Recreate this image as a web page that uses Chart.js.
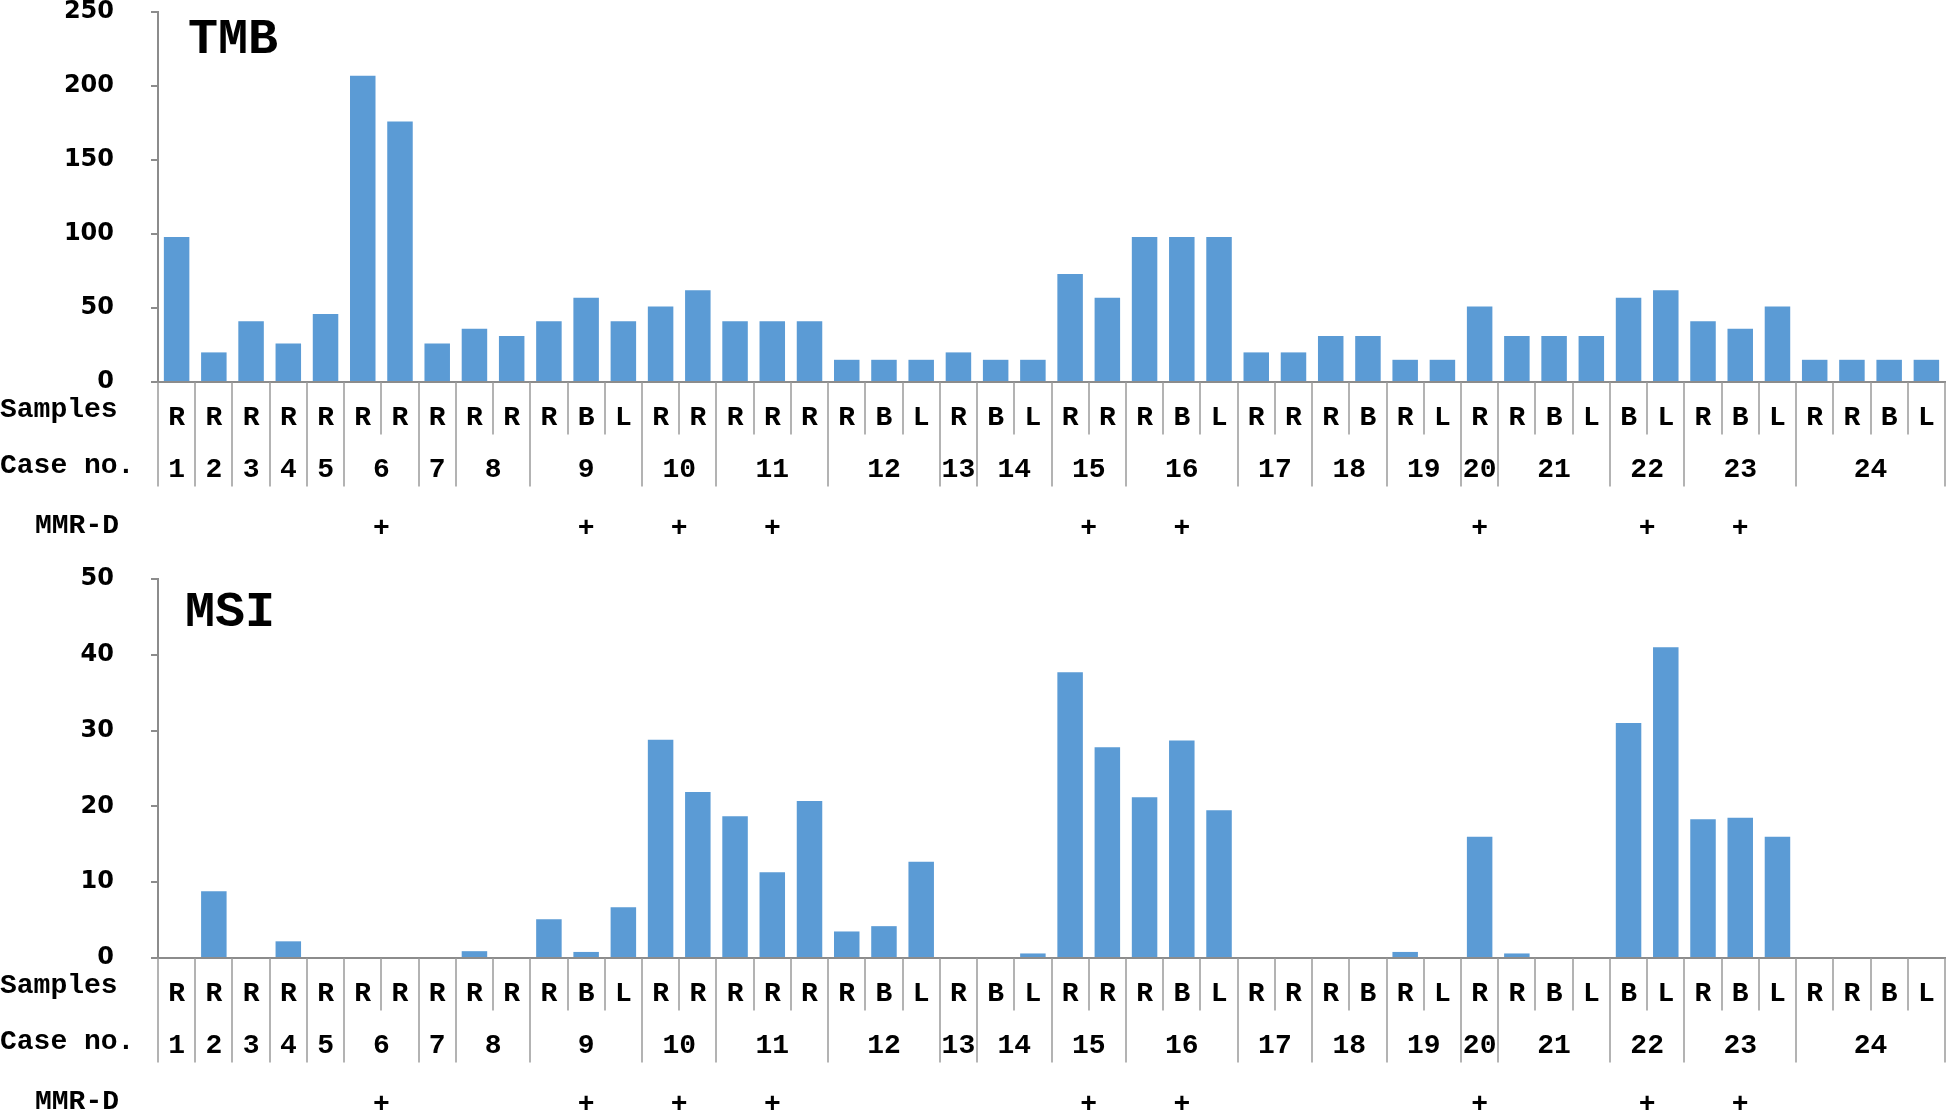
<!DOCTYPE html>
<html>
<head>
<meta charset="utf-8">
<title>TMB and MSI per sample</title>
<script src="https://cdn.jsdelivr.net/npm/chart.js@4.4.1/dist/chart.umd.min.js"></script>
<style>
  html, body { margin: 0; padding: 0; background: #fff; }
  #wrap { position: relative; width: 1947px; height: 1112px; overflow: hidden; }
  canvas { position: absolute; left: 0; }
  #tmbChart { top: 0; }
  #msiChart { top: 560px; }
</style>
</head>
<body>
<div id="wrap">
  <canvas id="tmbChart" width="1947" height="560"></canvas>
  <canvas id="msiChart" width="1947" height="552"></canvas>
</div>
<script>
// sample type of every bar (R / B / L), in order of the cases
const samples = [
  'R', 'R', 'R', 'R', 'R', 'R', 'R', 'R', 'R', 'R',
  'R', 'B', 'L', 'R', 'R', 'R', 'R', 'R', 'R', 'B',
  'L', 'R', 'B', 'L', 'R', 'R', 'R', 'B', 'L', 'R',
  'R', 'R', 'B', 'R', 'L', 'R', 'R', 'B', 'L', 'B',
  'L', 'R', 'B', 'L', 'R', 'R', 'B', 'L'
];
const caseNos = ['1', '2', '3', '4', '5', '6', '7', '8', '9', '10', '11', '12',
  '13', '14', '15', '16', '17', '18', '19', '20', '21', '22', '23', '24'];
// how many samples each case has
const caseSizes = [1, 1, 1, 1, 1, 2, 1, 2, 3, 2, 3, 3, 1, 2, 2, 3, 2, 2, 2, 1, 3, 2, 3, 4];
// cases marked + in the MMR-D row
const mmrCases = ['6', '9', '10', '11', '15', '16', '20', '22', '23'];

const tmbValues = [
  98, 20, 41, 26, 46, 207, 176, 26, 36, 31,
  41, 57, 41, 51, 62, 41, 41, 41, 15, 15,
  15, 20, 15, 15, 73, 57, 98, 98, 98, 20,
  20, 31, 31, 15, 15, 51, 31, 31, 31, 57,
  62, 41, 36, 51, 15, 15, 15, 15
];
const msiValues = [
  0, 8.8, 0, 2.2, 0, 0, 0, 0, 0.9, 0,
  5.1, 0.8, 6.7, 28.8, 21.9, 18.7, 11.3, 20.7, 3.5, 4.2,
  12.7, 0, 0, 0.6, 37.7, 27.8, 21.2, 28.7, 19.5, 0,
  0, 0, 0, 0.8, 0, 16.0, 0.6, 0, 0, 31.0,
  41.0, 18.3, 18.5, 16.0, 0, 0, 0, 0
];

const monoFont = '"Liberation Mono", "Courier New", monospace';
const axisGrey = '#8c8c8c';

// draws the Samples / Case no. / MMR-D rows under the bars and the panel title
const groupAxis = {
  id: 'groupAxis',
  afterDraw(chart, args, opts) {
    const { ctx, chartArea } = chart;
    const x = chart.scales.x;
    const n = samples.length;
    const half = (x.getPixelForValue(1) - x.getPixelForValue(0)) / 2;
    const edge = i => (i < n ? x.getPixelForValue(i) - half : x.getPixelForValue(n - 1) + half);
    const base = chartArea.bottom;

    const caseEdges = new Set([0]);
    let acc = 0;
    caseSizes.forEach(s => { acc += s; caseEdges.add(acc); });

    ctx.save();
    ctx.strokeStyle = '#9a9a9a';
    ctx.lineWidth = 1.5;
    for (let i = 0; i <= n; i++) {
      const px = Math.round(edge(i));
      ctx.beginPath();
      ctx.moveTo(px, base);
      ctx.lineTo(px, base + (caseEdges.has(i) ? 104.5 : 52.5));
      ctx.stroke();
    }

    ctx.fillStyle = '#000';
    ctx.font = 'bold 28px ' + monoFont;
    ctx.textAlign = 'center';
    ctx.textBaseline = 'alphabetic';
    samples.forEach((s, i) => ctx.fillText(s, x.getPixelForValue(i), base + 42.5));

    const plus = ctx.measureText('+');
    const plusShift = (plus.actualBoundingBoxAscent - plus.actualBoundingBoxDescent) / 2;
    let start = 0;
    caseSizes.forEach((size, k) => {
      const cx = (edge(start) + edge(start + size)) / 2;
      ctx.fillText(caseNos[k], cx, base + 94.5);
      if (mmrCases.includes(caseNos[k])) {
        ctx.fillText('+', cx, base + 144 + plusShift);
      }
      start += size;
    });

    ctx.textAlign = 'left';
    ctx.fillText('Samples', 0, base + 35);
    ctx.fillText('Case no.', 0, base + 90.5);
    ctx.fillText('MMR-D', 35, base + 150.5);

    ctx.font = 'bold 50px ' + monoFont;
    ctx.fillText(opts.title, opts.titleX, opts.titleY);
    ctx.restore();
  }
};

function makeChart(id, values, yMax, yStep, padTop, xHeight, title, titleX, titleY) {
  const ctx = document.getElementById(id).getContext('2d');
  return new Chart(ctx, {
    type: 'bar',
    data: {
      labels: samples,
      datasets: [{
        label: title,
        data: values,
        backgroundColor: '#5b9bd5',
        borderWidth: 0,
        barPercentage: 0.685,
        categoryPercentage: 1.0
      }]
    },
    options: {
      responsive: false,
      animation: false,
      devicePixelRatio: 1,
      layout: { padding: { top: padTop, right: 2, bottom: 0, left: 0 } },
      plugins: {
        legend: { display: false },
        tooltip: { enabled: false },
        groupAxis: { title: title, titleX: titleX, titleY: titleY }
      },
      scales: {
        x: {
          ticks: { display: false },
          grid: { display: false },
          border: { color: axisGrey, width: 2 },
          afterFit(s) { s.height = xHeight; s.paddingLeft = 0; s.paddingRight = 0; }
        },
        y: {
          min: 0,
          max: yMax,
          ticks: {
            stepSize: yStep,
            color: '#000',
            padding: 37,
            font: { family: '"DejaVu Sans", sans-serif', weight: 'bold', size: 24 }
          },
          grid: { drawOnChartArea: false, drawTicks: true, tickLength: 7, color: axisGrey, lineWidth: 2 },
          border: { color: axisGrey, width: 2 },
          afterFit(s) { s.width = 158; s.paddingTop = 0; s.paddingBottom = 0; }
        }
      }
    },
    plugins: [groupAxis]
  });
}

makeChart('tmbChart', tmbValues, 250, 50, 12, 178, 'TMB', 188, 53);
makeChart('msiChart', msiValues, 50, 10, 19, 154, 'MSI', 185, 66);
</script>
</body>
</html>
